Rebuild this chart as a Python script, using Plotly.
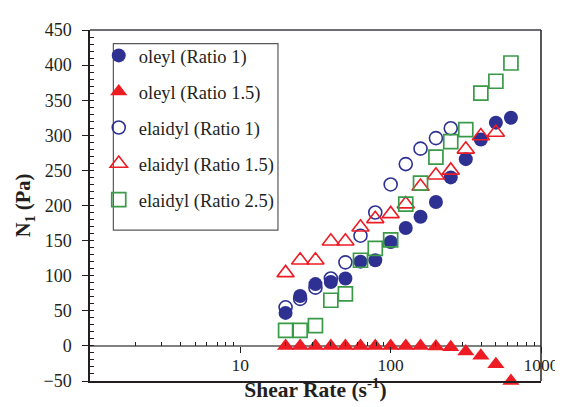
import plotly.graph_objects as go

# Shear rate (s^-1), log-spaced points
shear_rate = [20, 25, 31.6, 40, 50, 63, 79, 100, 126, 158, 200, 251, 316, 398, 501, 631]

oleyl_r1 = [47, 71, 88, 91, 96, 120, 122, 148, 168, 184, 205, 240, 266, 294, 318, 325]
oleyl_r15 = [0, 0, 0, 0, 0, 0, 0, 0, 0, 0, -1, -2, -8, -14, -26, -50]
elaidyl_r1 = [55, 67, 83, 96, 119, 157, 190, 230, 259, 281, 296, 310]
elaidyl_r15 = [104, 122, 122, 149, 149, 169, 181, 188, 202, 227, 243, 250, 280, 299, 304]
elaidyl_r25 = [22, 22, 29, 65, 74, 122, 139, 151, 202, 232, 269, 291, 308, 360, 377, 403]

names = ["oleyl (Ratio 1)", "oleyl (Ratio 1.5)", "elaidyl (Ratio 1)",
         "elaidyl (Ratio 1.5)", "elaidyl (Ratio 2.5)"]

x_tickvals = [10, 100, 1000]
x_ticktext = ["10", "100", "1000"]
x_minor = [2, 3, 4, 5, 6, 7, 8, 9, 20, 30, 40, 50, 60, 70, 80, 90,
           200, 300, 400, 500, 600, 700, 800, 900]

NAVY = "#2E3192"
RED = "#ED1C24"
GREEN = "#3A9A48"
INK = "#231F20"
FONT = "Liberation Serif, Times New Roman, serif"

fig = go.Figure()
fig.add_trace(go.Scatter(
    x=shear_rate[:len(oleyl_r1)], y=oleyl_r1, mode="markers", name=names[0],
    legendgroup="a", cliponaxis=False,
    marker=dict(symbol="circle", size=14, color=NAVY, line=dict(width=0))))
fig.add_trace(go.Scatter(
    x=shear_rate[:len(oleyl_r15)], y=oleyl_r15, mode="markers", name=names[1],
    legendgroup="b", cliponaxis=False, xaxis="x2",
    marker=dict(symbol="triangle-up", size=15, color=RED, line=dict(width=0))))
fig.add_trace(go.Scatter(
    x=shear_rate[:len(elaidyl_r1)], y=elaidyl_r1, mode="markers", name=names[2],
    legendgroup="c", cliponaxis=False,
    marker=dict(symbol="circle-open", size=13, color=NAVY, line=dict(width=1.6))))
fig.add_trace(go.Scatter(
    x=shear_rate[:len(elaidyl_r15)], y=elaidyl_r15, mode="markers", name=names[3],
    legendgroup="d", cliponaxis=False,
    marker=dict(symbol="triangle-up-open", size=15, color=RED, line=dict(width=1.6))))
fig.add_trace(go.Scatter(
    x=shear_rate[:len(elaidyl_r25)], y=elaidyl_r25, mode="markers", name=names[4],
    legendgroup="e", cliponaxis=False,
    marker=dict(symbol="square-open", size=14, color=GREEN, line=dict(width=1.7))))

fig.update_layout(
    width=563, height=407,
    margin=dict(l=82, r=18, t=17, b=32),
    paper_bgcolor="white", plot_bgcolor="white",
    font=dict(family=FONT, size=18, color=INK),
    showlegend=True,
    legend=dict(x=0.0194, y=0.9804, xanchor="left", yanchor="top",
                bgcolor="rgba(0,0,0,0)", borderwidth=0,
                font=dict(family=FONT, size=18.5, color=INK),
                tracegroupgap=9, itemwidth=30),
    xaxis=dict(type="log", range=[0, 3], showgrid=False, zeroline=False,
               showline=True, linecolor=INK, linewidth=1.5,
               ticks="", tickvals=x_tickvals, ticktext=x_ticktext,
               ticklabelstandoff=-33, ticklabeloverflow="allow",
               tickfont=dict(family=FONT, size=17.5, color=INK),
               title=dict(text="<b>Shear Rate (s<sup>-1</sup>)</b>",
                          font=dict(family=FONT, size=21.5, color=INK),
                          standoff=7)),
    xaxis2=dict(type="log", range=[0, 3], overlaying="x", anchor="free",
                position=0.1, showgrid=False, zeroline=False, showline=False,
                showticklabels=False, ticks="outside", ticklen=6,
                tickwidth=1.2, tickcolor=INK, tickvals=x_tickvals,
                minor=dict(ticks="inside", ticklen=4, tickwidth=1.2,
                           tickcolor=INK, tickvals=x_minor)),
    yaxis=dict(range=[-50, 450], dtick=50, showgrid=False,
               zeroline=True, zerolinecolor="#808080", zerolinewidth=1.5,
               showline=True, linecolor=INK, linewidth=1.5,
               ticks="outside", ticklen=6, tickwidth=1.2, tickcolor=INK,
               ticklabelstandoff=7,
               minor=dict(ticks="inside", ticklen=4, dtick=10, tickwidth=1.2,
                          tickcolor=INK),
               tickfont=dict(family=FONT, size=18, color=INK),
               title=dict(text="<b>N<sub>1</sub> (Pa)</b>",
                          font=dict(family=FONT, size=20.5, color=INK),
                          standoff=7)),
    shapes=[
        dict(type="line", xref="paper", yref="paper", x0=0, x1=1, y0=1, y1=1,
             line=dict(color="#6D6E71", width=2)),
        dict(type="line", xref="paper", yref="paper", x0=1, x1=1, y0=0, y1=1,
             line=dict(color=INK, width=1.5)),
        dict(type="rect", xref="paper", yref="paper", layer="above",
             x0=0.0518, x1=0.4168, y0=0.430, y1=0.961,
             fillcolor="rgba(0,0,0,0)", line=dict(color="#58595B", width=1.2)),
    ],
)

fig.write_html("out.html")
